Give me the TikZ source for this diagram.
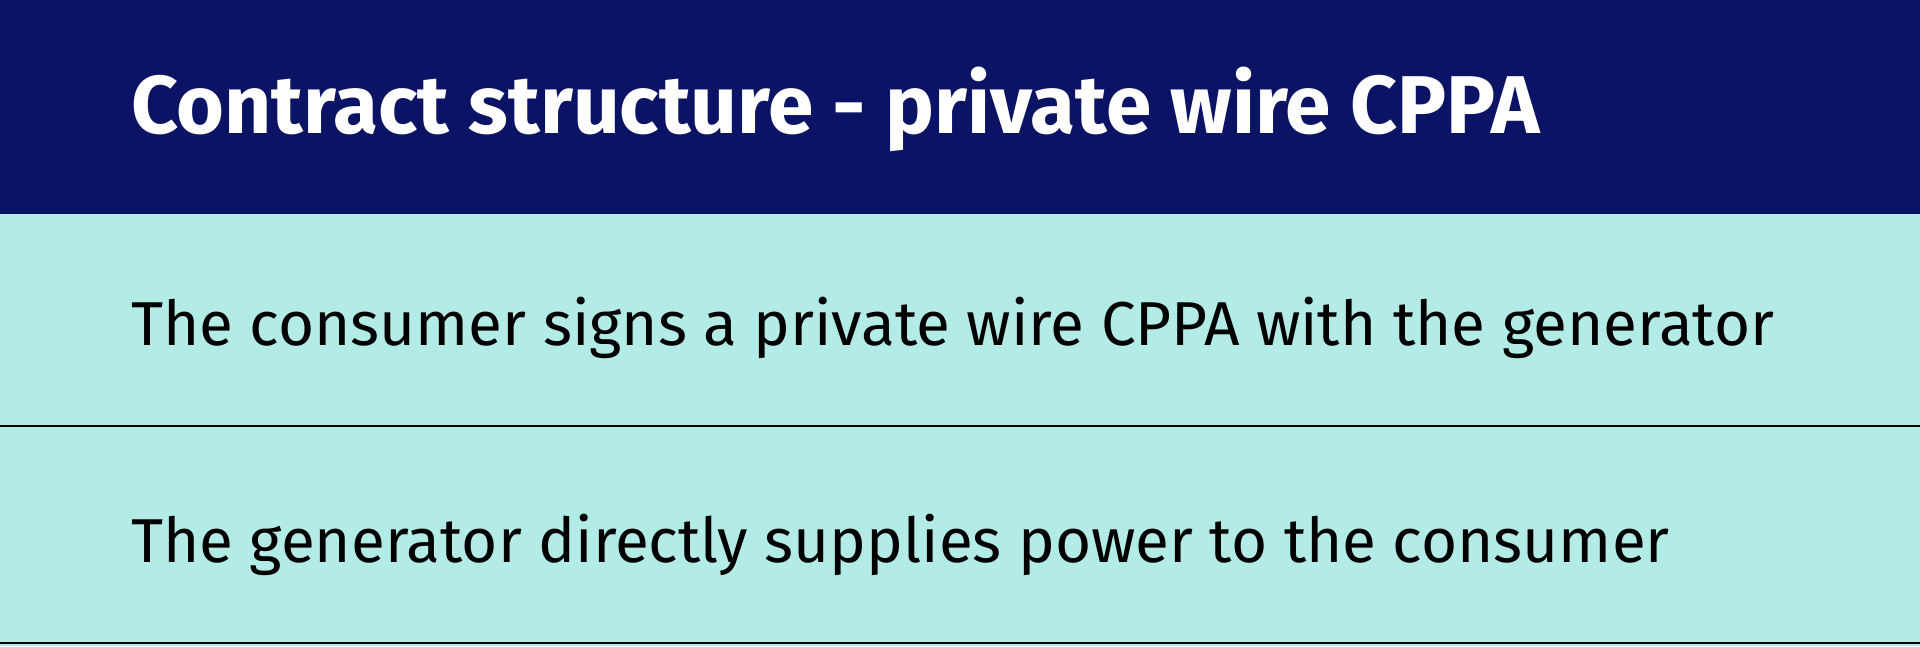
\documentclass[tikz,border=0pt]{standalone}
\usepackage{fontspec}
\setmainfont{Fira Sans}
\definecolor{navy}{HTML}{0B1464}
\definecolor{teal}{HTML}{B3ECE6}
\begin{document}
\begin{tikzpicture}[x=1pt,y=1pt,
  body/.style={anchor=base west,inner sep=0pt,font=\fontsize{62}{70}\selectfont},
  title/.style={anchor=base west,inner sep=0pt,text=white,font=\fontsize{82}{90}\selectfont\bfseries},
  rule/.style={line width=2.5pt,black}]
\useasboundingbox (0,0) rectangle (1920,-646);
\fill[navy] (0,0) rectangle (1920,-214);
\fill[teal] (0,-214) rectangle (1920,-646);
\node[title] (t) at (131,-133) {Contract structure - private wire CPPA};
\node[body] (r1) at (131,-345) {The consumer signs a private wire CPPA with the generator};
\node[body] (r2) at (131,-562) {The generator directly supplies power to the consumer};
\coordinate (l1a) at (0,-426); \coordinate (l1b) at (1920,-426);
\coordinate (l2a) at (0,-643); \coordinate (l2b) at (1920,-643);
\draw[rule] (l1a) -- (l1b);
\draw[rule] (l2a) -- (l2b);
\end{tikzpicture}
\end{document}
